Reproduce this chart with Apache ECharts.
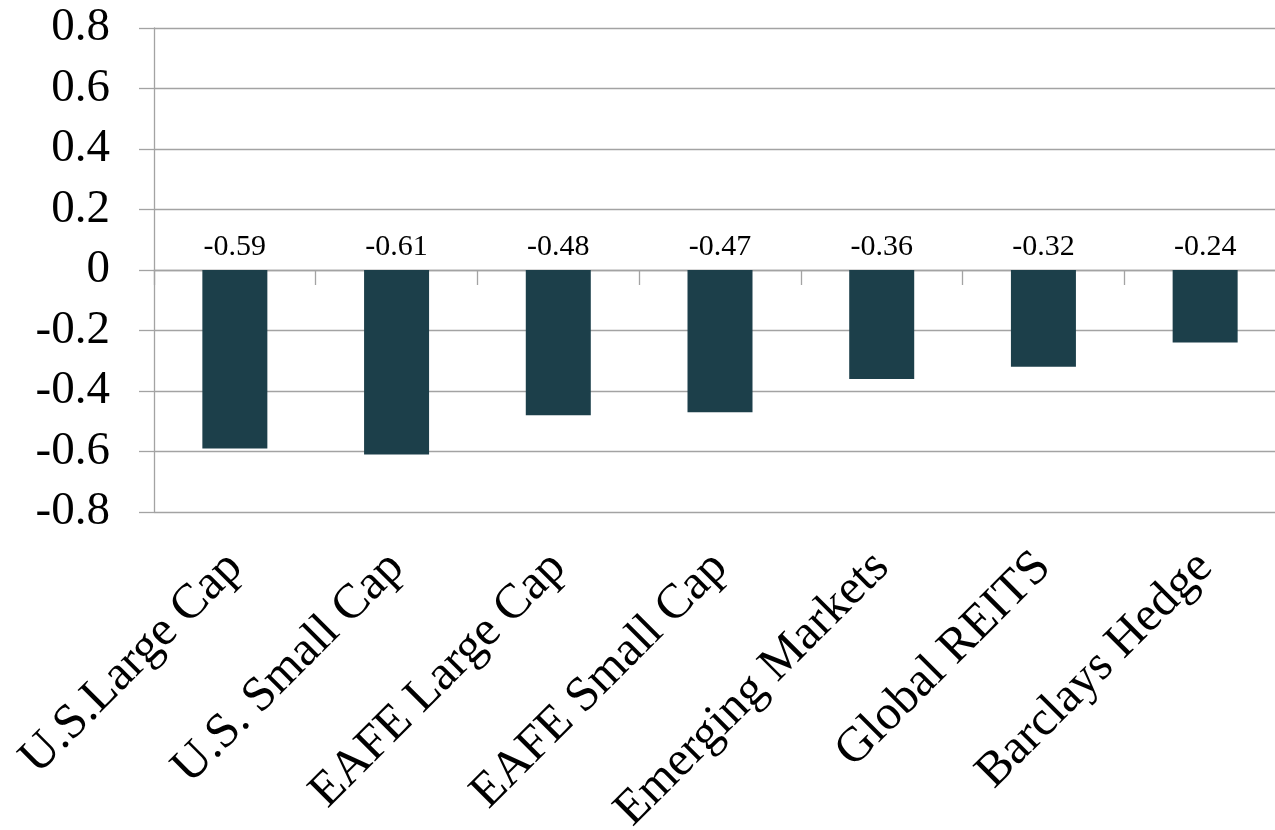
<!DOCTYPE html>
<html>
<head>
<meta charset="utf-8">
<script src="https://cdn.jsdelivr.net/npm/echarts@6/dist/echarts.min.js"></script>
<style>
html,body{margin:0;padding:0;background:#fff;}
#chart{width:1275px;height:830px;}
</style>
</head>
<body>
<div id="chart"></div>
<script>
const categories = ['U.S.Large Cap', 'U.S. Small Cap', 'EAFE Large Cap', 'EAFE Small Cap', 'Emerging Markets', 'Global REITS', 'Barclays Hedge'];
const values = [-0.59, -0.61, -0.48, -0.47, -0.36, -0.32, -0.24];
const yTicks = { min: -0.8, max: 0.8, interval: 0.2 };

const font = "'Liberation Serif', 'Times New Roman', serif";
const gray = '#a3a3a3';

const chart = echarts.init(document.getElementById('chart'));
chart.setOption({
  animation: false,
  backgroundColor: '#fff',
  grid: { left: 154, width: 1132, top: 28, height: 484, containLabel: false, outerBoundsMode: 'none' },
  xAxis: [
    {
      type: 'category',
      data: categories,
      position: 'bottom',
      axisLine: { show: false, onZero: false },
      axisTick: { show: false },
      splitLine: { show: false },
      axisLabel: {
        interval: 0,
        rotate: 45,
        margin: 48,
        fontFamily: font,
        fontSize: 49,
        color: '#000'
      }
    },
    {
      type: 'category',
      data: categories,
      position: 'bottom',
      axisLine: { show: true, onZero: true, lineStyle: { color: gray, width: 1.3 } },
      axisTick: { show: true, length: 15, lineStyle: { color: gray, width: 1.3 } },
      axisLabel: { show: false },
      splitLine: { show: false }
    }
  ],
  yAxis: {
    type: 'value',
    min: yTicks.min,
    max: yTicks.max,
    interval: yTicks.interval,
    axisLine: { show: true, lineStyle: { color: gray, width: 1.3 } },
    axisTick: { show: true, length: 15, lineStyle: { color: gray, width: 1.3 } },
    splitLine: { show: true, lineStyle: { color: gray, width: 1.3 } },
    axisLabel: {
      margin: 44,
      fontFamily: font,
      fontSize: 47,
      color: '#000',
      formatter: v => (Math.round(v * 10) / 10).toString()
    }
  },
  series: [{
    type: 'bar',
    data: values,
    xAxisIndex: 0,
    barWidth: 65,
    itemStyle: { color: '#1c3f4a' },
    label: {
      show: true,
      position: 'top',
      distance: 8,
      fontFamily: font,
      fontSize: 30,
      color: '#000',
      formatter: p => p.value.toFixed(2)
    }
  }]
});
</script>
</body>
</html>
